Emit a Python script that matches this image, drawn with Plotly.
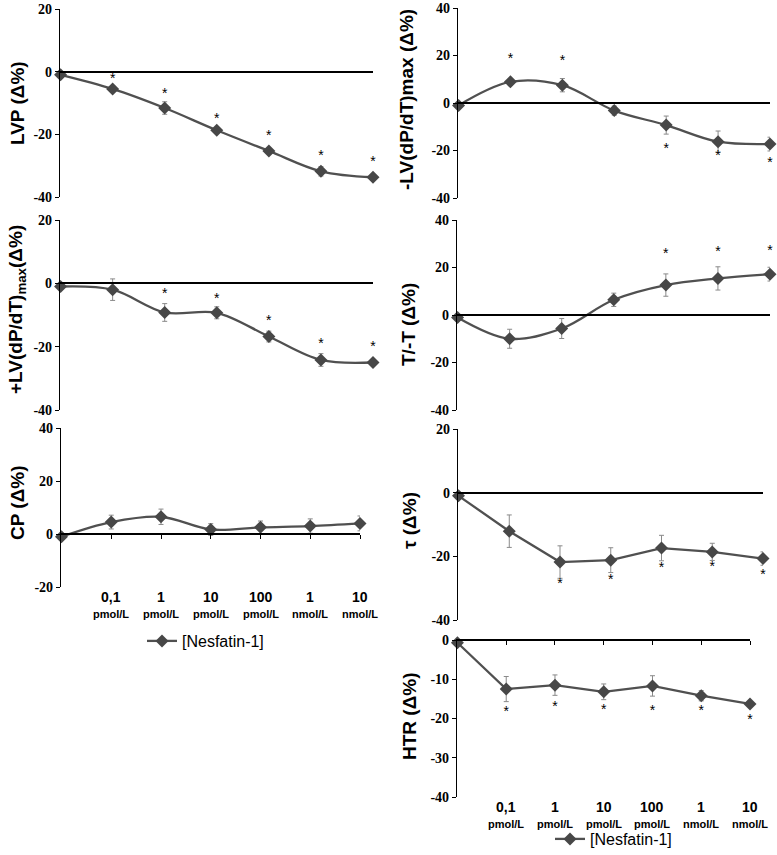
import plotly.graph_objects as go

W, H = 777, 855

# ---------------- data ----------------
positions = [0, 1, 2, 3, 4, 5, 6]
dose_values = ["0,1", "1", "10", "100", "1", "10"]
dose_units = ["pmol/L", "pmol/L", "pmol/L", "pmol/L", "nmol/L", "nmol/L"]
series_name = "[Nesfatin-1]"

lvp = [-1, -5.5, -11.6, -18.7, -25.3, -31.8, -33.7]
lvp_err = [0, 1.0, 2.0, 0.8, 0.8, 1.5, 0.6]
lvp_sig = [None, -2.5, -7.3, -15.2, -20.6, -27.0, -28.9]

plus_lv = [-1, -2, -9.2, -9.3, -16.8, -24.2, -25.0]
plus_lv_err = [0, 3.4, 2.8, 1.9, 1.7, 2.0, 0.5]
plus_lv_sig = [None, None, -3.5, -5.0, -12.2, -19.2, -20.3]

cp = [-1, 4.5, 6.5, 1.7, 2.5, 3.0, 4.0]
cp_err = [0, 2.6, 2.9, 2.2, 2.4, 2.7, 2.8]
cp_sig = [None] * 7

minus_lv = [-1, 8.9, 7.5, -3.2, -9.3, -16.3, -17.3]
minus_lv_err = [0, 1.3, 2.8, 1.9, 3.8, 4.5, 2.9]
minus_lv_sig = [None, 18.2, 17.4, None, -19.7, -22.7, -25.5]

t_ratio = [-1, -10.0, -5.7, 6.4, 12.6, 15.4, 17.2]
t_ratio_err = [0, 4.0, 4.2, 2.8, 4.7, 4.9, 2.9]
t_ratio_sig = [None, None, None, None, 25.4, 26.3, 26.8]

tau = [-1, -12.1, -21.8, -21.2, -17.4, -18.6, -20.7]
tau_err = [0, 5.1, 5.1, 3.9, 4.0, 2.7, 2.1]
tau_sig = [None, None, -29.0, -27.7, -23.9, -23.4, -26.1]

htr = [-0.7, -12.5, -11.5, -13.2, -11.7, -14.2, -16.3]
htr_err = [0, 3.2, 2.6, 2.0, 2.6, 1.3, 0.6]
htr_sig = [None, -18.4, -17.2, -17.9, -18.3, -18.3, -20.4]

ticks_20_m40 = [-40, -20, 0, 20]
ticks_40_m40 = [-40, -20, 0, 20, 40]
ticks_40_m20 = [-20, 0, 20, 40]
ticks_0_m40 = [-40, -30, -20, -10, 0]

# ---------------- layout (pixel boxes) ----------------
# title, y, err, sig, x_left, x_right, y_top, y_bottom, yrange, yticks, title_x, title_y, x-ticks, legend, line shape
panels = [
    ("LVP (Δ%)", lvp, lvp_err, lvp_sig, 59, 373, 9, 197, [-40, 20], ticks_20_m40, 17, 103, False, None, "spline"),
    ("+LV(dP/dT)<sub>max</sub>(Δ%)", plus_lv, plus_lv_err, plus_lv_sig, 59, 373, 220, 410, [-40, 20], ticks_20_m40, 17, 310, False, None, "spline"),
    ("CP (Δ%)", cp, cp_err, cp_sig, 60, 360, 428, 587, [-20, 40], ticks_40_m20, 17, 503, True, "legend", "spline"),
    ("-LV(dP/dT)max (Δ%)", minus_lv, minus_lv_err, minus_lv_sig, 457, 770, 8, 198, [-40, 40], ticks_40_m40, 406, 100, False, None, "spline"),
    ("T/-T (Δ%)", t_ratio, t_ratio_err, t_ratio_sig, 456, 770, 220, 410, [-40, 40], ticks_40_m40, 409, 325, False, None, "spline"),
    ("τ (Δ%)", tau, tau_err, tau_sig, 457, 763, 429, 620, [-40, 20], ticks_20_m40, 409, 521, False, None, "linear"),
    ("HTR (Δ%)", htr, htr_err, htr_sig, 456, 750, 640, 797, [-40, 0], ticks_0_m40, 409, 716, True, "legend2", "linear"),
]

LINE_COL = "#505050"
MARK_COL = "#474747"
ERR_COL = "#8a8a8a"
SANS = "Liberation Sans, Arial, sans-serif"
SERIF = "Liberation Serif, Times New Roman, serif"

fig = go.Figure()
layout = dict(
    width=W, height=H, margin=dict(l=0, r=0, t=0, b=0, autoexpand=False),
    paper_bgcolor="white", plot_bgcolor="rgba(0,0,0,0)",
    showlegend=True, annotations=[],
)

for i, (title, yv, ev, sv, x0, x1, yt, yb, yr, ytk, tx, ty, xt, leg, shape) in enumerate(panels, start=1):
    xa = "x" if i == 1 else f"x{i}"
    ya = "y" if i == 1 else f"y{i}"
    xkey = "xaxis" if i == 1 else f"xaxis{i}"
    ykey = "yaxis" if i == 1 else f"yaxis{i}"

    ydom = [1 - yb / H, 1 - yt / H]
    zero_pos = ydom[0] + (0 - yr[0]) / (yr[1] - yr[0]) * (ydom[1] - ydom[0])

    layout[xkey] = dict(
        domain=[x0 / W, x1 / W], range=[-0.03, 6], anchor="free", position=zero_pos,
        showline=True, linecolor="black", linewidth=1.6, showgrid=False, zeroline=False,
        showticklabels=False, tickvals=positions[1:],
        ticks="outside" if xt else "", ticklen=4, tickcolor="black", tickwidth=1.3,
        fixedrange=True, automargin=False,
    )
    layout[ykey] = dict(
        domain=ydom, range=yr, anchor="free", position=x0 / W,
        showline=True, linecolor="black", linewidth=1.3, showgrid=False, zeroline=False,
        tickvals=ytk, ticktext=[str(v) for v in ytk], ticks="outside", ticklen=4,
        tickcolor="black", tickwidth=1.2,
        tickfont=dict(family=SERIF, size=14, color="black", weight="bold"),
        fixedrange=True, automargin=False,
    )

    # error bars (drawn beneath)
    fig.add_trace(go.Scatter(
        x=positions, y=yv, xaxis=xa, yaxis=ya, mode="markers",
        marker=dict(size=1, color="rgba(0,0,0,0)"),
        error_y=dict(type="data", array=ev, color=ERR_COL, thickness=1, width=2.5),
        showlegend=False, hoverinfo="skip", cliponaxis=False,
    ))
    # line + markers
    line_style = dict(color=LINE_COL, width=2.3, shape=shape)
    if shape == "spline":
        line_style["smoothing"] = 1
    fig.add_trace(go.Scatter(
        x=positions, y=yv, xaxis=xa, yaxis=ya, mode="lines+markers",
        line=line_style,
        marker=dict(symbol="diamond", size=10, color=MARK_COL),
        name=series_name, showlegend=leg is not None,
        legend=leg if leg else "legend", cliponaxis=False,
    ))
    # significance asterisks
    sx = [p for p, s in zip(positions, sv) if s is not None]
    sy = [s for s in sv if s is not None]
    if sx:
        fig.add_trace(go.Scatter(
            x=sx, y=sy, xaxis=xa, yaxis=ya, mode="text", text=["*"] * len(sx),
            textposition="middle center",
            textfont=dict(family=SANS, size=14, color="black"),
            showlegend=False, hoverinfo="skip", cliponaxis=False,
        ))

    # axis title
    layout["annotations"].append(dict(
        text=title, xref="paper", yref="paper", x=tx / W, y=1 - ty / H,
        xanchor="center", yanchor="middle", textangle=-90, showarrow=False,
        font=dict(family=SANS, size=19, color="black", weight="bold"),
    ))

    # category labels
    if xt:
        for p, dv, du in zip(positions[1:], dose_values, dose_units):
            layout["annotations"].append(dict(
                text=dv, xref=xa, yref="paper", x=p, y=1 - (yb + 10) / H,
                xanchor="center", yanchor="middle", showarrow=False,
                font=dict(family=SANS, size=14, color="black", weight="bold"),
            ))
            layout["annotations"].append(dict(
                text=du, xref=xa, yref="paper", x=p, y=1 - (yb + 27) / H,
                xanchor="center", yanchor="middle", showarrow=False,
                font=dict(family=SANS, size=11, color="black", weight="bold"),
            ))

layout["legend"] = dict(
    x=142 / W, y=1 - 641 / H, xanchor="left", yanchor="middle",
    bgcolor="rgba(0,0,0,0)", font=dict(family=SANS, size=16, color="black"),
    itemwidth=30,
)
layout["legend2"] = dict(
    x=550 / W, y=1 - 839 / H, xanchor="left", yanchor="middle",
    bgcolor="rgba(0,0,0,0)", font=dict(family=SANS, size=16, color="black"),
    itemwidth=30,
)

fig.update_layout(**layout)
fig.write_html(
    "out.html",
    config={"displayModeBar": False},
    post_script="document.body.style.margin='0px';document.body.style.overflow='hidden';",
)
